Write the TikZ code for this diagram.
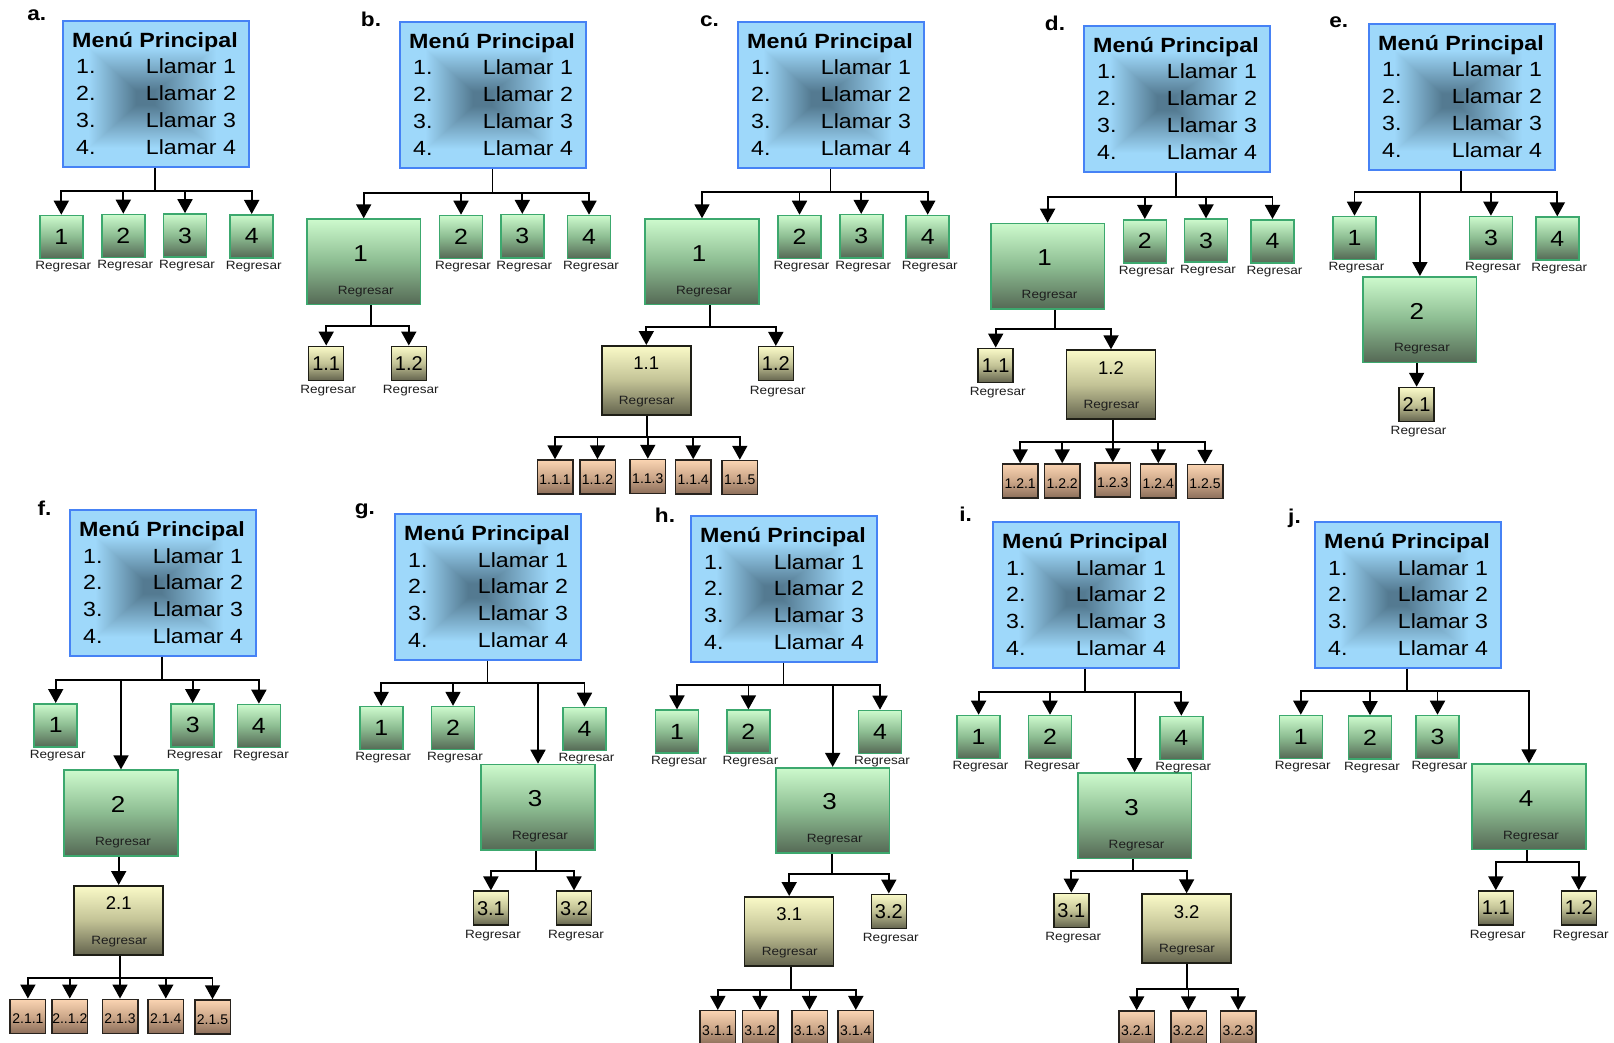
\documentclass[tikz,border=0pt]{standalone}
\usepackage{fontspec}
\setmainfont{Liberation Sans}
\newfontfamily\wfont[FakeStretch=1.13]{Liberation Sans}
\usetikzlibrary{arrows.meta,calc}

\definecolor{menuedge}{RGB}{70,130,245}
\definecolor{gtop}{RGB}{205,250,205}
\definecolor{gmid}{RGB}{140,188,145}
\definecolor{gbot}{RGB}{85,105,85}
\definecolor{gedge}{RGB}{60,168,110}
\definecolor{ytop}{RGB}{250,250,200}
\definecolor{ymid}{RGB}{195,195,150}
\definecolor{ybot}{RGB}{100,100,78}
\definecolor{yedge}{RGB}{30,30,22}
\definecolor{otop}{RGB}{250,212,178}
\definecolor{omid}{RGB}{205,168,138}
\definecolor{obot}{RGB}{140,110,90}
\definecolor{oedge}{RGB}{40,35,30}
\definecolor{regtext}{RGB}{30,30,30}

% rectangular "from the centre" gradient for the menu boxes
\pgfdeclarefunctionalshading{menushade}{\pgfpoint{-50bp}{-50bp}}{\pgfpoint{50bp}{50bp}}{}{
1.3 add abs 25 div exch 3.2 add dup 0 lt {neg 21.8 div} {28.2 div} ifelse
2 copy lt {exch} if pop 0.1 sub 1.7 mul dup 1 gt {pop 1} if dup 0 lt {pop 0} if
dup 0.29 mul 0.33 add exch dup 0.367 mul 0.48 add exch 0.41 mul 0.57 add
}

\tikzset{
  menu/.style={draw=menuedge, line width=1.6pt, shade, shading=menushade,
    minimum width=186pt, minimum height=146pt, inner sep=0pt, anchor=north west},
  mtitle/.style={font=\wfont\bfseries\fontsize{20.6}{24}\selectfont, inner sep=0pt, anchor=base},
  mitem/.style={font=\wfont\fontsize{20.5}{24}\selectfont, inner sep=0pt, anchor=base west},
  panel/.style={font=\wfont\bfseries\fontsize{20}{24}\selectfont, inner sep=0pt, anchor=base},
  gsq/.style={draw=gedge, line width=1.6pt, top color=gtop, bottom color=gbot, middle color=gmid, inner sep=0pt},
  gsmall/.style={gsq, minimum size=43pt, font=\wfont\fontsize{22}{24}\selectfont},
  gbig/.style={gsq, minimum width=113.5pt, minimum height=85.5pt, anchor=north},
  ysq/.style={draw=yedge, line width=1.5pt, top color=ytop, bottom color=ybot, middle color=ymid, inner sep=0pt},
  ysmall/.style={ysq, minimum width=35pt, minimum height=34pt, font=\fontsize{20}{22}\selectfont},
  ybig/.style={ysq, minimum width=89pt, minimum height=69pt, anchor=north},
  osq/.style={draw=oedge, line width=1.5pt, top color=otop, bottom color=obot, middle color=omid,
    inner sep=0pt, minimum width=35.5pt, minimum height=34pt},
  reg/.style={font=\wfont\fontsize{12}{13}\selectfont, text=regtext, inner sep=0pt},
  bignum/.style={font=\wfont\fontsize{23}{25}\selectfont, inner sep=0pt},
  ynum/.style={font=\fontsize{18.5}{20}\selectfont, inner sep=0pt},
  onum/.style={font=\fontsize{14}{16}\selectfont, inner sep=0pt},
  conn/.style={line width=1.8pt},
  arr/.style={conn, -{Triangle[width=15pt,length=14pt]}},
}

% main menu box: name, left, top
\newcommand\menubox[3]{%
  \node[menu] (#1) at (#2,#3) {};
  \node[mtitle] (#1-t) at ($(#1.north west)+(93,27.7)$) {Menú Principal};
  \foreach \k in {1,2,3,4}{
    \node[mitem] (#1-n\k) at ($(#1.north west)+(14,27.2+26.8*\k)$) {\k.};
    \node[mitem] (#1-l\k) at ($(#1.north west)+(83.7,27.2+26.8*\k)$) {Llamar \k};
  }
}
% small green box: name, cx, cy, number
\newcommand\gsbox[4]{%
  \node[gsmall] (#1) at (#2,#3) {#4};
  \node[reg] (#1-r) at ($(#1)+(2,30)$) {Regresar};
}
% large green box: name, cx, top, number
\newcommand\gbbox[4]{%
  \node[gbig] (#1) at (#2,#3) {};
  \node[bignum] (#1-n) at ($(#1.north)+(-3,35)$) {#4};
  \node[reg] (#1-r) at ($(#1.north)+(2,73)$) {Regresar};
}
% small yellow box: name, cx, cy, text
\newcommand\ysbox[4]{%
  \node[ysmall] (#1) at (#2,#3) {#4};
  \node[reg] (#1-r) at ($(#1)+(2,27.5)$) {Regresar};
}
% large yellow box: name, cx, top, text
\newcommand\ybbox[4]{%
  \node[ybig] (#1) at (#2,#3) {};
  \node[ynum] (#1-n) at ($(#1.north)+(0,18.5)$) {#4};
  \node[reg] (#1-r) at ($(#1.north)+(0.5,56.5)$) {Regresar};
}
% orange leaf box: name, cx, cy, text
\newcommand\obox[4]{%
  \node[osq] (#1) at (#2,#3) {};
  \node[onum] (#1-t) at ($(#1)+(0,2.5)$) {#4};
}

\begin{document}
\begin{tikzpicture}[x=1pt,y=-1pt]
\useasboundingbox (0,0) rectangle (1614,1043);
\fill[white] (0,0) rectangle (1614,1043);
\clip (0,0) rectangle (1614,1043);

% ---------------- a ----------------
\node[panel] (la) at (36.7,20.7) {a.};
\menubox{A}{62}{20}
\gsbox{a1}{61.3}{237}{1}
\gsbox{a2}{123.3}{236}{2}
\gsbox{a3}{185}{235.5}{3}
\gsbox{a4}{251.7}{236.3}{4}
\coordinate (aJ) at (155,190.7);
\draw[conn] (A.south -| aJ) -- (aJ);
\foreach \c in {a1,a2,a3,a4} \draw[arr] (aJ) -| (\c.north);

% ---------------- b ----------------
\node[panel] (lb) at (371,26.7) {b.};
\menubox{B}{399}{21}
\gbbox{b1}{363.7}{218.3}{1}
\gsbox{b2}{461}{237}{2}
\gsbox{b3}{522.3}{236.2}{3}
\gsbox{b4}{589}{237}{4}
\ysbox{b11}{326.2}{363.3}{1.1}
\ysbox{b12}{408.8}{363.3}{1.2}
\coordinate (bJ) at (492.5,192.7);
\coordinate (bK) at (371.3,326);
\draw[conn] (B.south -| bJ) -- (bJ);
\foreach \c in {b1,b2,b3,b4} \draw[arr] (bJ) -| (\c.north);
\draw[conn] (b1.south -| bK) -- (bK);
\foreach \c in {b11,b12} \draw[arr] (bK) -| (\c.north);

% ---------------- c ----------------
\node[panel] (lc) at (709.5,26.7) {c.};
\menubox{C}{737}{21}
\gbbox{c1}{702}{218.3}{1}
\gsbox{c2}{799.5}{237}{2}
\gsbox{c3}{861.2}{236.2}{3}
\gsbox{c4}{927.7}{237}{4}
\ybbox{c11}{646.3}{345}{1.1}
\ysbox{c12}{775.8}{363.7}{1.2}
\obox{c111}{555}{477}{1.1.1}
\obox{c112}{597.5}{477}{1.1.2}
\obox{c113}{647.8}{476.5}{1.1.3}
\obox{c114}{693.2}{477}{1.1.4}
\obox{c115}{739.8}{477.5}{1.1.5}
\coordinate (cJ) at (830.5,192.3);
\coordinate (cK) at (709.7,326.7);
\coordinate (cL) at (646.7,437.3);
\draw[conn] (C.south -| cJ) -- (cJ);
\foreach \c in {c1,c2,c3,c4} \draw[arr] (cJ) -| (\c.north);
\draw[conn] (c1.south -| cK) -- (cK);
\foreach \c in {c11,c12} \draw[arr] (cK) -| (\c.north);
\draw[conn] (c11.south -| cL) -- (cL);
\foreach \c in {c111,c112,c113,c114,c115} \draw[arr] (cL) -| (\c.north);

% ---------------- d ----------------
\node[panel] (ld) at (1055,30.7) {d.};
\menubox{D}{1083}{25}
\gbbox{d1}{1047.6}{222.7}{1}
\gsbox{d2}{1144.8}{241.3}{2}
\gsbox{d3}{1206}{240.7}{3}
\gsbox{d4}{1272.5}{241.3}{4}
\ysbox{d11}{995.7}{365.3}{1.1}
\ybbox{d12}{1111}{349.3}{1.2}
\obox{d121}{1020.2}{481}{1.2.1}
\obox{d122}{1062.2}{481}{1.2.2}
\obox{d123}{1112.8}{480}{1.2.3}
\obox{d124}{1158.3}{481}{1.2.4}
\obox{d125}{1205}{481.5}{1.2.5}
\coordinate (dJ) at (1176,196.7);
\coordinate (dK) at (1055,329.3);
\coordinate (dL) at (1113,442.3);
\draw[conn] (D.south -| dJ) -- (dJ);
\foreach \c in {d1,d2,d3,d4} \draw[arr] (dJ) -| (\c.north);
\draw[conn] (d1.south -| dK) -- (dK);
\foreach \c in {d11,d12} \draw[arr] (dK) -| (\c.north);
\draw[conn] (d12.south -| dL) -- (dL);
\foreach \c in {d121,d122,d123,d124,d125} \draw[arr] (dL) -| (\c.north);

% ---------------- e ----------------
\node[panel] (le) at (1338.7,27.3) {e.};
\menubox{E}{1368}{23}
\gsbox{e1}{1354.5}{238}{1}
\gbbox{e2}{1419.9}{276}{2}
\gsbox{e3}{1490.9}{238}{3}
\gsbox{e4}{1557.3}{238.7}{4}
\ysbox{e21}{1416.6}{404.5}{2.1}
\coordinate (eJ) at (1461,192.3);
\draw[conn] (E.south -| eJ) -- (eJ);
\foreach \c in {e1,e2,e3,e4} \draw[arr] (eJ) -| (\c.north);
\draw[arr] (e2.south -| e21.north) -- (e21.north);

% ---------------- f ----------------
\node[panel] (lf) at (44.5,515.4) {f.};
\menubox{F}{69}{509}
\gsbox{f1}{55.7}{725.3}{1}
\gbbox{f2}{121}{769.4}{2}
\gsbox{f3}{192.7}{725.3}{3}
\gsbox{f4}{258.9}{726}{4}
\ybbox{f21}{118.7}{885}{2.1}
\obox{f211}{27.9}{1016.3}{2.1.1}
\obox{f212}{69.8}{1016.3}{2..1.2}
\obox{f213}{120}{1016.3}{2.1.3}
\obox{f214}{165.8}{1016.3}{2.1.4}
\obox{f215}{212.5}{1017}{2.1.5}
\coordinate (fJ) at (162,679.8);
\coordinate (fL) at (120.3,977.8);
\draw[conn] (F.south -| fJ) -- (fJ);
\foreach \c in {f1,f2,f3,f4} \draw[arr] (fJ) -| (\c.north);
\draw[arr] (f2.south -| f21.north) -- (f21.north);
\draw[conn] (f21.south -| fL) -- (fL);
\foreach \c in {f211,f212,f213,f214,f215} \draw[arr] (fL) -| (\c.north);

% ---------------- g ----------------
\node[panel] (lg) at (364.8,514.7) {g.};
\menubox{G}{394}{513}
\gsbox{g1}{381.2}{728.1}{1}
\gsbox{g2}{453}{728.1}{2}
\gbbox{g3}{538}{763.7}{3}
\gsbox{g4}{584.5}{729}{4}
\ysbox{g31}{490.9}{908.2}{3.1}
\ysbox{g32}{574}{908.2}{3.2}
\coordinate (gJ) at (487.5,682.6);
\coordinate (gK) at (536,871);
\draw[conn] (G.south -| gJ) -- (gJ);
\foreach \c in {g1,g2,g3,g4} \draw[arr] (gJ) -| (\c.north);
\draw[conn] (g3.south -| gK) -- (gK);
\foreach \c in {g31,g32} \draw[arr] (gK) -| (\c.north);

% ---------------- h ----------------
\node[panel] (lh) at (665,522.8) {h.};
\menubox{H}{690}{515}
\gsbox{h1}{677}{731.7}{1}
\gsbox{h2}{748.4}{731.7}{2}
\gbbox{h3}{832.7}{766.9}{3}
\gsbox{h4}{880}{732}{4}
\ybbox{h31}{789.2}{896}{3.1}
\ysbox{h32}{888.8}{911.3}{3.2}
\obox{h311}{717.8}{1027.7}{3.1.1}
\obox{h312}{760}{1027.7}{3.1.2}
\obox{h313}{809.5}{1027.7}{3.1.3}
\obox{h314}{855.8}{1027.7}{3.1.4}
\coordinate (hJ) at (783.5,685);
\coordinate (hK) at (832.2,873.8);
\coordinate (hL) at (790.7,990);
\draw[conn] (H.south -| hJ) -- (hJ);
\foreach \c in {h1,h2,h3,h4} \draw[arr] (hJ) -| (\c.north);
\draw[conn] (h3.south -| hK) -- (hK);
\foreach \c in {h31,h32} \draw[arr] (hK) -| (\c.north);
\draw[conn] (h31.south -| hL) -- (hL);
\foreach \c in {h311,h312,h313,h314} \draw[arr] (hL) -| (\c.north);

% ---------------- i ----------------
\node[panel] (li) at (965.7,521) {i.};
\menubox{I}{992}{521}
\gsbox{i1}{978.6}{737}{1}
\gsbox{i2}{1050}{737}{2}
\gbbox{i3}{1134.6}{772.2}{3}
\gsbox{i4}{1181.3}{738}{4}
\ysbox{i31}{1071.3}{910.3}{3.1}
\ybbox{i32}{1186.6}{893.3}{3.2}
\obox{i321}{1136.7}{1028}{3.2.1}
\obox{i322}{1188.5}{1028}{3.2.2}
\obox{i323}{1238.2}{1028}{3.2.3}
\coordinate (iJ) at (1085,692.1);
\coordinate (iK) at (1132.8,871);
\coordinate (iL) at (1186.7,989.3);
\draw[conn] (I.south -| iJ) -- (iJ);
\foreach \c in {i1,i2,i3,i4} \draw[arr] (iJ) -| (\c.north);
\draw[conn] (i3.south -| iK) -- (iK);
\foreach \c in {i31,i32} \draw[arr] (iK) -| (\c.north);
\draw[conn] (i32.south -| iL) -- (iL);
\foreach \c in {i321,i322,i323} \draw[arr] (iL) -| (\c.north);

% ---------------- j ----------------
\node[panel] (lj) at (1294.5,523.5) {j.};
\menubox{J}{1314}{521}
\gsbox{j1}{1300.8}{737}{1}
\gsbox{j2}{1370}{737.5}{2}
\gsbox{j3}{1437.5}{737}{3}
\gbbox{j4}{1529}{763.3}{4}
\ysbox{j11}{1495.8}{908}{1.1}
\ysbox{j12}{1578.8}{908}{1.2}
\coordinate (jJ) at (1407,691);
\coordinate (jK) at (1526.7,861.7);
\draw[conn] (J.south -| jJ) -- (jJ);
\foreach \c in {j1,j2,j3,j4} \draw[arr] (jJ) -| (\c.north);
\draw[conn] (j4.south -| jK) -- (jK);
\foreach \c in {j11,j12} \draw[arr] (jK) -| (\c.north);
\end{tikzpicture}
\end{document}
